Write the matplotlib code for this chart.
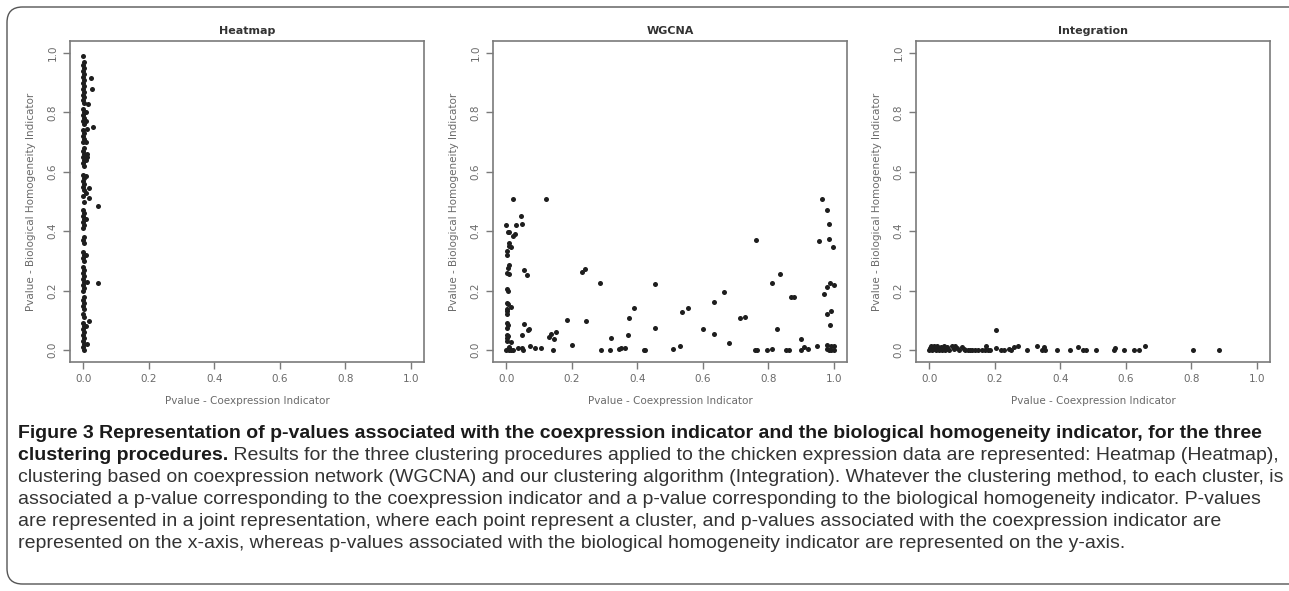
import matplotlib
matplotlib.use("Agg")
import matplotlib.pyplot as plt
import numpy as np
from matplotlib import font_manager
from matplotlib.patches import FancyBboxPatch

# heatmap clusters: (coexpression p, homogeneity p)
heat_x = [0.0, 0.003, 0.0, 0.004, 0.0, 0.003, 0.0, 0.004, 0.0, 0.003, 0.0, 0.004, 0.0, 0.003,
          0.0, 0.004, 0.0, 0.003, 0.0, 0.004, 0.0, 0.003, 0.0, 0.004, 0.0, 0.003, 0.0, 0.004,
          0.0, 0.003, 0.0, 0.004, 0.0, 0.003, 0.0, 0.004, 0.0, 0.003, 0.0, 0.004, 0.0, 0.003,
          0.0, 0.004, 0.0, 0.003, 0.0, 0.004, 0.0, 0.003, 0.0, 0.004, 0.0, 0.003, 0.0, 0.004,
          0.0, 0.003, 0.0, 0.004, 0.0, 0.003, 0.0, 0.004, 0.0, 0.003, 0.0, 0.004, 0.0, 0.003,
          0.0, 0.004, 0.0, 0.003, 0.0, 0.004, 0.0, 0.003, 0.0, 0.004, 0.0, 0.003,
          0.023, 0.026, 0.015, 0.029, 0.045, 0.044, 0.018, 0.017, 0.018, 0.010, 0.010, 0.012,
          0.010, 0.012, 0.010, 0.012, 0.012, 0.010, 0.010, 0.012, 0.010, 0.008, 0.008]
heat_y = [0.99, 0.97, 0.96, 0.95, 0.94, 0.93, 0.92, 0.91, 0.90, 0.89, 0.88, 0.87, 0.86, 0.85,
          0.84, 0.83, 0.81, 0.80, 0.79, 0.78, 0.77, 0.76, 0.74, 0.73, 0.72, 0.71, 0.70, 0.68,
          0.67, 0.66, 0.65, 0.64, 0.63, 0.62, 0.59, 0.58, 0.57, 0.56, 0.55, 0.54, 0.52, 0.50,
          0.47, 0.46, 0.45, 0.44, 0.43, 0.42, 0.41, 0.38, 0.37, 0.36, 0.33, 0.32, 0.31, 0.30,
          0.28, 0.27, 0.26, 0.25, 0.24, 0.23, 0.22, 0.21, 0.20, 0.18, 0.17, 0.16, 0.15, 0.14,
          0.12, 0.11, 0.09, 0.08, 0.07, 0.06, 0.05, 0.04, 0.03, 0.02, 0.01, 0.00,
          0.915, 0.878, 0.828, 0.752, 0.485, 0.225, 0.098, 0.544, 0.512, 0.53, 0.77, 0.66,
          0.70, 0.745, 0.80, 0.65, 0.23, 0.32, 0.08, 0.02, 0.64, 0.585, 0.44]

wgcna_x = [0.022, 0.123, 0.0, 0.045, 0.048, 0.030, 0.022, 0.028, 0.005, 0.010, 0.008, 0.010,
           0.015, 0.004, 0.002, 0.010, 0.005, 0.002, 0.008, 0.055, 0.065, 0.002, 0.006, 0.002,
           0.006, 0.004, 0.015, 0.002, 0.002, 0.002, 0.005, 0.003, 0.055, 0.070, 0.068, 0.002,
           0.006, 0.048, 0.003, 0.002, 0.015, 0.0, 0.005, 0.010, 0.015, 0.020, 0.010, 0.035,
           0.048, 0.052, 0.072, 0.087, 0.105, 0.143, 0.132, 0.137, 0.153, 0.147, 0.185, 0.200,
           0.232, 0.240, 0.243, 0.290, 0.285, 0.318, 0.320, 0.345, 0.350, 0.363, 0.373, 0.375,
           0.390, 0.420, 0.425, 0.455, 0.453, 0.510, 0.530, 0.537, 0.555, 0.600, 0.635, 0.635,
           0.665, 0.680, 0.715, 0.730, 0.762, 0.760, 0.765, 0.795, 0.810, 0.812, 0.825, 0.835,
           0.853, 0.862, 0.870, 0.877, 0.900, 0.900, 0.910, 0.922, 0.950, 0.955, 0.965, 0.980,
           0.985, 0.985, 0.998, 0.970, 0.978, 0.988, 1.000, 0.978, 0.990, 0.988, 0.978, 0.980,
           0.985, 0.990, 1.000, 1.000, 0.992]
wgcna_y = [0.508, 0.508, 0.422, 0.452, 0.425, 0.420, 0.385, 0.392, 0.398, 0.398, 0.360, 0.350,
           0.348, 0.335, 0.320, 0.285, 0.275, 0.260, 0.255, 0.270, 0.252, 0.205, 0.200, 0.160,
           0.155, 0.140, 0.145, 0.130, 0.120, 0.090, 0.085, 0.075, 0.088, 0.070, 0.067, 0.050,
           0.048, 0.050, 0.040, 0.030, 0.026, 0.0, 0.005, 0.0, 0.0, 0.0, 0.010, 0.006,
           0.006, 0.0, 0.013, 0.006, 0.008, 0.0, 0.045, 0.055, 0.062, 0.037, 0.100, 0.017,
           0.262, 0.272, 0.098, 0.0, 0.225, 0.0, 0.042, 0.005, 0.007, 0.006, 0.050, 0.108,
           0.142, 0.0, 0.002, 0.222, 0.075, 0.005, 0.015, 0.128, 0.142, 0.072, 0.162, 0.054,
           0.196, 0.025, 0.107, 0.112, 0.372, 0.0, 0.0, 0.0, 0.005, 0.225, 0.070, 0.255,
           0.0, 0.0, 0.178, 0.178, 0.038, 0.0, 0.012, 0.005, 0.015, 0.367, 0.508, 0.472,
           0.425, 0.375, 0.348, 0.190, 0.213, 0.227, 0.218, 0.120, 0.133, 0.085, 0.018, 0.005,
           0.0, 0.015, 0.015, 0.0, 0.0]

integ_x = [0.205, 0.0, 0.005, 0.010, 0.015, 0.020, 0.025, 0.030, 0.035, 0.040, 0.045, 0.050,
           0.055, 0.060, 0.070, 0.075, 0.080, 0.090, 0.100, 0.110, 0.120, 0.125, 0.130, 0.140,
           0.150, 0.160, 0.170, 0.175, 0.180, 0.185, 0.003, 0.012, 0.022, 0.032, 0.042, 0.052,
           0.085, 0.105, 0.205, 0.220, 0.230, 0.245, 0.250, 0.260, 0.270, 0.300, 0.330, 0.345,
           0.350, 0.355, 0.390, 0.430, 0.455, 0.470, 0.480, 0.510, 0.565, 0.567, 0.595, 0.625,
           0.640, 0.660, 0.805, 0.883]
integ_y = [0.068, 0.0, 0.015, 0.0, 0.015, 0.0, 0.015, 0.0, 0.012, 0.0, 0.015, 0.0,
           0.012, 0.0, 0.015, 0.003, 0.015, 0.0, 0.010, 0.0, 0.0, 0.0, 0.0, 0.0,
           0.0, 0.0, 0.0, 0.015, 0.0, 0.0, 0.008, 0.005, 0.008, 0.005, 0.008, 0.005,
           0.008, 0.005, 0.008, 0.0, 0.0, 0.003, 0.0, 0.010, 0.015, 0.0, 0.015, 0.0,
           0.010, 0.0, 0.0, 0.0, 0.010, 0.0, 0.0, 0.0, 0.0, 0.008, 0.0, 0.0,
           0.0, 0.015, 0.0, 0.0]

panels = [("Heatmap", heat_x, heat_y, 70), ("WGCNA", wgcna_x, wgcna_y, 493),
          ("Integration", integ_x, integ_y, 916)]
ticks = [0.0, 0.2, 0.4, 0.6, 0.8, 1.0]

W, H = 1289, 591
fig = plt.figure(figsize=(W / 100, H / 100), dpi=100)

grey = "#7a7a7a"
for title, xs, ys, left in panels:
    ax = fig.add_axes([left / W, 1 - 362 / H, 354 / W, 321 / H])
    ax.scatter(xs, ys, s=13, color="#1e1e1e", linewidths=0, zorder=3)
    ax.set_xlim(-0.04, 1.04)
    ax.set_ylim(-0.04, 1.04)
    ax.set_xticks(ticks)
    ax.set_yticks(ticks)
    ax.set_xticklabels(["%.1f" % t for t in ticks])
    ax.set_yticklabels(["%.1f" % t for t in ticks], rotation=90, va="center")
    ax.tick_params(direction="out", length=5, width=1, color=grey, labelcolor="#6a6a6a",
                   labelsize=7.5, pad=4)
    for sp in ax.spines.values():
        sp.set_color(grey)
        sp.set_linewidth(1.2)
    ax.set_title(title, fontsize=8, fontweight="bold", color="#333333", pad=5)
    ax.set_xlabel("Pvalue - Coexpression Indicator", fontsize=7.5, color="#6a6a6a", labelpad=8)
    ax.set_ylabel("Pvalue - Biological Homogeneity Indicator", fontsize=7.5, color="#6a6a6a",
                  labelpad=8)

# rounded frame around figure and caption
frame = FancyBboxPatch((7 / W, 7 / H), 1.2, (H - 14) / H,
                       boxstyle="round,pad=0,rounding_size=0.012",
                       transform=fig.transFigure, fill=False, edgecolor="#555555",
                       linewidth=1.0, mutation_aspect=W / H)
fig.patches.append(frame)

names = [f.name for f in font_manager.fontManager.ttflist]
cap_font = "Liberation Sans Narrow" if "Liberation Sans Narrow" in names else "Liberation Sans"

lines = [
    ("Figure 3 Representation of p-values associated with the coexpression indicator and the "
     "biological homogeneity indicator, for the three", ""),
    ("clustering procedures.", " Results for the three clustering procedures applied to the "
     "chicken expression data are represented: Heatmap (Heatmap),"),
    ("", "clustering based on coexpression network (WGCNA) and our clustering algorithm "
     "(Integration). Whatever the clustering method, to each cluster, is"),
    ("", "associated a p-value corresponding to the coexpression indicator and a p-value "
     "corresponding to the biological homogeneity indicator. P-values"),
    ("", "are represented in a joint representation, where each point represent a cluster, "
     "and p-values associated with the coexpression indicator are"),
    ("", "represented on the x-axis, whereas p-values associated with the biological "
     "homogeneity indicator are represented on the y-axis."),
]
renderer = fig.canvas.get_renderer()
x0 = 18 / W


def line_width(bold, regular, size):
    w = 0
    for s, wt in ((bold, "bold"), (regular, "normal")):
        if s:
            t = fig.text(0, 0.5, s, fontsize=size, fontweight=wt, family=cap_font)
            w += t.get_window_extent(renderer).width
            t.remove()
    return w


# one font size for the caption, so the widest line fits inside the frame
cap_size = min(10 * 1262 / line_width(b, r, 10) for b, r in lines)

for i, (bold, regular) in enumerate(lines):
    y = 1 - (433 + 22 * i) / H
    x = x0
    if bold:
        t = fig.text(x, y, bold, fontsize=cap_size, fontweight="bold", family=cap_font,
                     color="#1a1a1a", va="center")
        bb = t.get_window_extent(renderer)
        x = bb.x1 / W
    if regular:
        fig.text(x, y, regular, fontsize=cap_size, family=cap_font, color="#333333",
                 va="center")

fig.savefig("out.png", dpi=100)
